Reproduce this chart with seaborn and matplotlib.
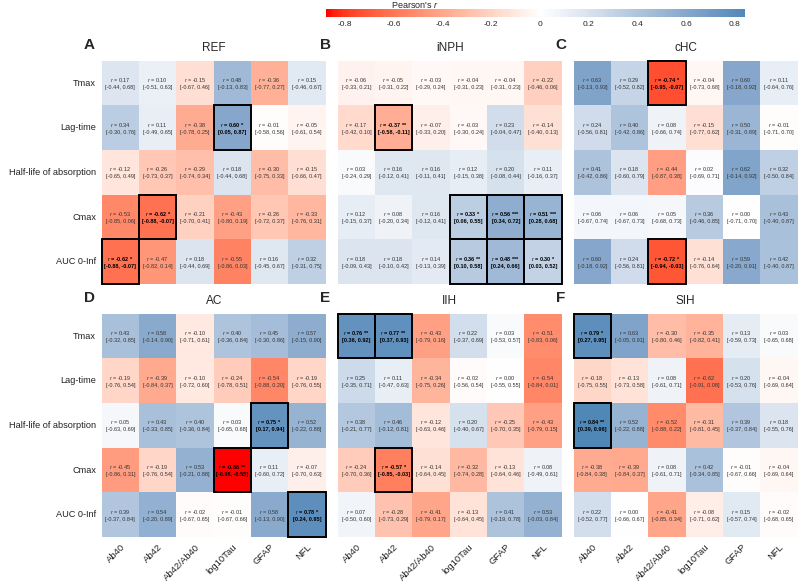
import numpy as np
import pandas as pd
import matplotlib
matplotlib.use("Agg")
import matplotlib.pyplot as plt
import matplotlib.colors as mcolors
from matplotlib.patches import Rectangle
import seaborn as sns

sns.set_style("white")
plt.rcParams['font.family'] = ['Liberation Sans', 'DejaVu Sans']
plt.rcParams['mathtext.fontset'] = 'custom'
plt.rcParams['mathtext.it'] = 'Liberation Sans:italic'
plt.rcParams['mathtext.rm'] = 'Liberation Sans'

rows = ["Tmax", "Lag-time", "Half-life of absorption", "Cmax", "AUC 0-Inf"]
cols = ["Ab40", "Ab42", "Ab42/Ab40", "log10Tau", "GFAP", "NFL"]

# REF
ref_r = [[0.17, 0.10, -0.15, 0.48, -0.36, 0.15],
         [0.34, 0.11, -0.38, 0.60, -0.01, -0.05],
         [-0.12, -0.26, -0.29, 0.18, -0.30, -0.15],
         [-0.53, -0.62, -0.21, -0.43, -0.26, -0.33],
         [-0.62, -0.47, 0.18, -0.55, 0.16, 0.32]]
ref_lo = [[-0.44, -0.51, -0.67, -0.13, -0.77, -0.46],
          [-0.30, -0.49, -0.78, 0.05, -0.58, -0.61],
          [-0.65, -0.73, -0.74, -0.44, -0.75, -0.66],
          [-0.85, -0.88, -0.70, -0.80, -0.72, -0.76],
          [-0.88, -0.82, -0.44, -0.86, -0.45, -0.31]]
ref_hi = [[0.68, 0.63, 0.46, 0.83, 0.27, 0.67],
          [0.76, 0.65, 0.25, 0.87, 0.56, 0.54],
          [0.49, 0.37, 0.34, 0.68, 0.33, 0.47],
          [0.06, -0.07, 0.41, 0.19, 0.37, 0.31],
          [-0.07, 0.14, 0.69, 0.03, 0.67, 0.75]]
ref_sig = [["", "", "", "", "", ""],
           ["", "", "", "*", "", ""],
           ["", "", "", "", "", ""],
           ["", "*", "", "", "", ""],
           ["*", "", "", "", "", ""]]

# iNPH
inph_r = [[-0.06, -0.05, -0.03, -0.04, -0.04, -0.22],
          [-0.17, -0.37, -0.07, -0.03, 0.23, -0.14],
          [0.03, 0.16, 0.16, 0.12, 0.20, 0.11],
          [0.12, 0.08, 0.16, 0.33, 0.56, 0.51],
          [0.18, 0.18, 0.14, 0.36, 0.48, 0.30]]
inph_lo = [[-0.33, -0.31, -0.29, -0.31, -0.31, -0.46],
           [-0.42, -0.58, -0.33, -0.30, -0.04, -0.40],
           [-0.24, -0.12, -0.11, -0.15, -0.08, -0.16],
           [-0.15, -0.20, -0.12, 0.06, 0.34, 0.28],
           [-0.09, -0.10, -0.13, 0.10, 0.24, 0.03]]
inph_hi = [[0.21, 0.22, 0.24, 0.23, 0.23, 0.06],
           [0.10, -0.11, 0.20, 0.24, 0.47, 0.13],
           [0.29, 0.41, 0.41, 0.38, 0.44, 0.37],
           [0.37, 0.34, 0.41, 0.55, 0.72, 0.68],
           [0.43, 0.42, 0.39, 0.58, 0.66, 0.52]]
inph_sig = [["", "", "", "", "", ""],
            ["", "**", "", "", "", ""],
            ["", "", "", "", "", ""],
            ["", "", "", "*", "***", "***"],
            ["", "", "", "**", "***", "*"]]

# cHC
chc_r = [[0.63, 0.29, -0.74, -0.04, 0.60, 0.11],
         [0.24, 0.40, 0.08, -0.15, 0.50, -0.01],
         [0.41, 0.18, -0.44, 0.02, 0.62, 0.32],
         [0.06, 0.06, 0.05, 0.36, 0.00, 0.43],
         [0.60, 0.24, -0.72, -0.14, 0.59, 0.42]]
chc_lo = [[-0.13, -0.52, -0.95, -0.73, -0.18, -0.64],
          [-0.56, -0.42, -0.66, -0.77, -0.31, -0.71],
          [-0.42, -0.60, -0.87, -0.69, -0.14, -0.50],
          [-0.67, -0.67, -0.68, -0.46, -0.71, -0.40],
          [-0.18, -0.56, -0.94, -0.76, -0.20, -0.40]]
chc_hi = [[0.93, 0.82, -0.07, 0.68, 0.92, 0.76],
          [0.81, 0.86, 0.74, 0.62, 0.89, 0.70],
          [0.86, 0.79, 0.38, 0.71, 0.92, 0.84],
          [0.74, 0.73, 0.73, 0.85, 0.70, 0.87],
          [0.92, 0.81, -0.03, 0.64, 0.91, 0.87]]
chc_sig = [["", "", "*", "", "", ""],
           ["", "", "", "", "", ""],
           ["", "", "", "", "", ""],
           ["", "", "", "", "", ""],
           ["", "", "*", "", "", ""]]

# AC
ac_r = [[0.43, 0.58, -0.10, 0.40, 0.45, 0.57],
        [-0.19, -0.39, -0.10, -0.24, -0.54, -0.19],
        [0.05, 0.43, 0.40, 0.03, 0.75, 0.52],
        [-0.45, -0.19, 0.53, -0.88, 0.11, -0.07],
        [0.39, 0.54, -0.02, -0.01, 0.58, 0.78]]
ac_lo = [[-0.32, -0.14, -0.71, -0.36, -0.30, -0.15],
         [-0.76, -0.84, -0.72, -0.78, -0.88, -0.76],
         [-0.63, -0.33, -0.36, -0.65, 0.17, -0.22],
         [-0.86, -0.76, -0.21, -0.98, -0.60, -0.70],
         [-0.37, -0.20, -0.67, -0.67, -0.13, 0.24]]
ac_hi = [[0.85, 0.90, 0.61, 0.84, 0.86, 0.90],
         [0.54, 0.37, 0.60, 0.51, 0.20, 0.55],
         [0.69, 0.85, 0.84, 0.68, 0.94, 0.88],
         [0.31, 0.54, 0.88, -0.55, 0.72, 0.63],
         [0.84, 0.89, 0.65, 0.66, 0.90, 0.95]]
ac_sig = [["", "", "", "", "", ""],
          ["", "", "", "", "", ""],
          ["", "", "", "", "*", ""],
          ["", "", "", "**", "", ""],
          ["", "", "", "", "", "*"]]

# IIH
iih_r = [[0.76, 0.77, -0.43, 0.22, 0.03, -0.51],
         [0.25, 0.11, -0.34, -0.02, 0.00, -0.54],
         [0.38, 0.46, -0.12, 0.20, -0.25, -0.43],
         [-0.24, -0.57, -0.14, -0.32, -0.13, 0.08],
         [0.07, -0.28, -0.41, -0.13, 0.41, 0.53]]
iih_lo = [[0.36, 0.37, -0.79, -0.37, -0.53, -0.83],
          [-0.35, -0.47, -0.75, -0.56, -0.55, -0.84],
          [-0.21, -0.12, -0.63, -0.40, -0.70, -0.79],
          [-0.70, -0.85, -0.64, -0.74, -0.64, -0.49],
          [-0.50, -0.73, -0.79, -0.64, -0.19, -0.03]]
iih_hi = [[0.92, 0.93, 0.16, 0.69, 0.57, 0.06],
          [0.71, 0.63, 0.26, 0.54, 0.55, 0.01],
          [0.77, 0.81, 0.46, 0.67, 0.35, 0.15],
          [0.36, -0.03, 0.45, 0.28, 0.46, 0.61],
          [0.60, 0.29, 0.17, 0.45, 0.78, 0.84]]
iih_sig = [["**", "**", "", "", "", ""],
           ["", "", "", "", "", ""],
           ["", "", "", "", "", ""],
           ["", "*", "", "", "", ""],
           ["", "", "", "", "", ""]]

# SIH
sih_r = [[0.79, 0.63, -0.30, -0.35, 0.13, 0.03],
         [-0.18, -0.13, 0.08, -0.62, 0.20, -0.04],
         [0.84, 0.52, -0.52, -0.31, 0.39, 0.18],
         [-0.38, -0.39, 0.08, 0.42, -0.01, -0.04],
         [0.22, 0.00, -0.41, -0.08, 0.15, -0.02]]
sih_lo = [[0.27, -0.05, -0.80, -0.82, -0.59, -0.65],
          [-0.75, -0.73, -0.61, -0.91, -0.53, -0.69],
          [0.39, -0.22, -0.88, -0.81, -0.37, -0.55],
          [-0.84, -0.84, -0.61, -0.34, -0.67, -0.69],
          [-0.52, -0.66, -0.85, -0.71, -0.57, -0.68]]
sih_hi = [[0.95, 0.91, 0.46, 0.41, 0.73, 0.68],
          [0.55, 0.58, 0.71, 0.08, 0.76, 0.64],
          [0.96, 0.88, 0.22, 0.45, 0.84, 0.76],
          [0.38, 0.37, 0.71, 0.85, 0.66, 0.64],
          [0.77, 0.67, 0.34, 0.62, 0.74, 0.65]]
sih_sig = [["*", "", "", "", "", ""],
           ["", "", "", "", "", ""],
           ["**", "", "", "", "", ""],
           ["", "", "", "", "", ""],
           ["", "", "", "", "", ""]]

panels = [("A", "REF", ref_r, ref_lo, ref_hi, ref_sig),
          ("B", "iNPH", inph_r, inph_lo, inph_hi, inph_sig),
          ("C", "cHC", chc_r, chc_lo, chc_hi, chc_sig),
          ("D", "AC", ac_r, ac_lo, ac_hi, ac_sig),
          ("E", "IIH", iih_r, iih_lo, iih_hi, iih_sig),
          ("F", "SIH", sih_r, sih_lo, sih_hi, sih_sig)]


# red - white - steelblue, interpolated in Lab like ggplot's gradient2
def to_lab(c):
    c = np.array(mcolors.to_rgb(c))
    c = np.where(c > 0.04045, ((c + 0.055) / 1.055) ** 2.4, c / 12.92)
    m = np.array([[0.4124, 0.3576, 0.1805], [0.2126, 0.7152, 0.0722], [0.0193, 0.1192, 0.9505]])
    xyz = m @ c / np.array([0.95047, 1.0, 1.08883])
    f = np.where(xyz > 0.008856, np.cbrt(xyz), 7.787 * xyz + 16 / 116)
    return np.array([116 * f[1] - 16, 500 * (f[0] - f[1]), 200 * (f[1] - f[2])])


def from_lab(lab):
    fy = (lab[0] + 16) / 116
    f = np.array([fy + lab[1] / 500, fy, fy - lab[2] / 200])
    xyz = np.where(f ** 3 > 0.008856, f ** 3, (f - 16 / 116) / 7.787) * np.array([0.95047, 1.0, 1.08883])
    m = np.array([[3.2406, -1.5372, -0.4986], [-0.9689, 1.8758, 0.0415], [0.0557, -0.2040, 1.0570]])
    c = m @ xyz
    c = np.where(c > 0.0031308, 1.055 * np.clip(c, 0, None) ** (1 / 2.4) - 0.055, 12.92 * c)
    return np.clip(c, 0, 1)


lab_lo, lab_mid, lab_hi = to_lab("red"), to_lab("white"), to_lab("steelblue")
nodes = []
for t in np.linspace(0, 1, 65):
    if t < 0.5:
        lab = lab_lo + (lab_mid - lab_lo) * (t / 0.5)
    else:
        lab = lab_mid + (lab_hi - lab_mid) * ((t - 0.5) / 0.5)
    nodes.append(from_lab(lab))
cmap = mcolors.LinearSegmentedColormap.from_list("rwb", nodes)
vlim = 0.88

fig = plt.figure(figsize=(7.98, 5.85), dpi=100)
W, H = 798, 585
lefts = [101.7, 337.7, 573.7]
tops = [60.7, 313.7]
pw, ph = 224, 223.3

for k, (letter, title, r, lo, hi, sig) in enumerate(panels):
    i, j = divmod(k, 3)
    ax = fig.add_axes([lefts[j] / W, 1 - (tops[i] + ph) / H, pw / W, ph / H])
    df = pd.DataFrame(r, index=rows, columns=cols)
    labels = [[f"$r$ = {r[a][b]:.2f} {sig[a][b]}\n[{lo[a][b]:.2f}, {hi[a][b]:.2f}]"
               for b in range(6)] for a in range(5)]
    sns.heatmap(df, ax=ax, cmap=cmap, vmin=-vlim, vmax=vlim, cbar=False,
                annot=np.array(labels), fmt="", annot_kws={"fontsize": 4.0, "color": "#333333"})
    for t_, (a, b) in zip(ax.texts, [(a, b) for a in range(5) for b in range(6)]):
        if sig[a][b]:
            t_.set_fontweight("bold")
            t_.set_color("black")
            ax.add_patch(Rectangle((b, a), 1, 1, fill=False, edgecolor="black", lw=1.4, clip_on=False))
    if j == 0:
        ax.set_yticklabels(rows, rotation=0, fontsize=6.6, color="#222222")
    else:
        ax.set_yticks([])
    if i == 1:
        ax.set_xticklabels(cols, rotation=45, ha="right", rotation_mode="anchor", fontsize=6.8, color="#222222")
    else:
        ax.set_xticks([])
    ax.tick_params(length=2, color="#333333", pad=2)
    ax.set_xlabel("")
    ax.set_ylabel("")
    ax.set_title(title, fontsize=8.5, pad=7)
    fig.text((lefts[j] - 18) / W, 1 - (tops[i] - 16) / H, letter, fontsize=11, fontweight="bold",
             ha="left", va="center")

# colour bar
cax = fig.add_axes([325.5 / W, 1 - 17 / H, 419 / W, 8 / H])
grad = np.linspace(-0.88, 0.84, 300)
cax.pcolormesh(grad, [0, 1], grad[None, :-1], cmap=cmap, vmin=-vlim, vmax=vlim)
cax.set_xlim(-0.88, 0.84)
cax.set_yticks([])
cax.set_xticks([-0.8, -0.6, -0.4, -0.2, 0, 0.2, 0.4, 0.6, 0.8])
cax.set_xticklabels(["-0.8", "-0.6", "-0.4", "-0.2", "0", "0.2", "0.4", "0.6", "0.8"])
cax.tick_params(axis="x", length=2, labelsize=6, pad=1, color="white")
for s in cax.spines.values():
    s.set_visible(False)
fig.text(0.52, 1 - 5 / H, "Pearson's $r$", fontsize=6.5, ha="center", va="center")

fig.savefig("out.png", dpi=100)
